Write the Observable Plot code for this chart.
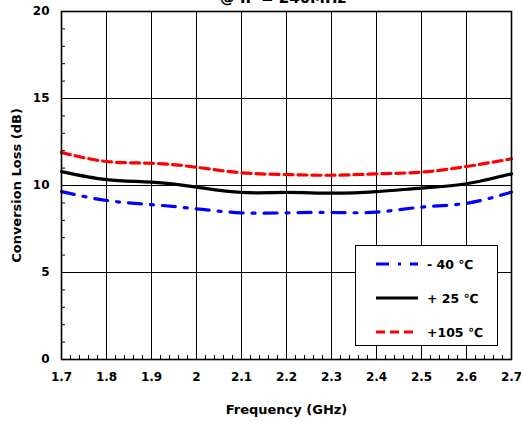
<!DOCTYPE html>
<html>
<head>
<meta charset="utf-8">
<script src="https://cdn.jsdelivr.net/npm/d3@7"></script>
<script src="https://cdn.jsdelivr.net/npm/@observablehq/plot@0.6"></script>
<style>
  html, body { margin: 0; padding: 0; background: #fff; }
  #wrap { position: relative; width: 521px; height: 421px; overflow: hidden; font-family: "DejaVu Sans", sans-serif; }
  #title { position: absolute; left: 0; width: 566px; top: -11px; text-align: center; font-weight: bold; font-size: 15px; }
  #legend { position: absolute; left: 355px; top: 245px; width: 143px; height: 101px; background: #fff; border: 1.5px solid #000; box-sizing: border-box; }
  .row { position: absolute; left: 0; height: 20px; display: flex; align-items: center; }
  .row svg { margin-left: 20px; }
  .row span { margin-left: 9px; font-weight: bold; font-size: 12.5px; }
</style>
</head>
<body>
<div id="wrap">
  <div id="title">@ IF = 240MHz</div>
</div>
<script>
// Frequency sweep (GHz) and conversion loss (dB) per temperature
const freq = [1.7, 1.8, 1.9, 2.0, 2.1, 2.2, 2.3, 2.4, 2.5, 2.6, 2.7];
const lossM40 = [9.65, 9.14, 8.90, 8.66, 8.43, 8.43, 8.45, 8.47, 8.76, 8.98, 9.62];
const loss25  = [10.80, 10.34, 10.19, 9.91, 9.60, 9.60, 9.56, 9.65, 9.85, 10.10, 10.67];
const loss105 = [11.90, 11.38, 11.28, 11.05, 10.73, 10.63, 10.59, 10.67, 10.77, 11.09, 11.53];

const series = [
  {name: "- 40 ℃", values: lossM40, color: "#0000ff", dash: "13,9,3,9"},
  {name: "+ 25 ℃", values: loss25, color: "#000000", dash: null},
  {name: "+105 ℃", values: loss105, color: "#ff0000", dash: "9,5"}
];

const xTicks = [1.7, 1.8, 1.9, 2.0, 2.1, 2.2, 2.3, 2.4, 2.5, 2.6, 2.7];
const xTickLabels = ["1.7", "1.8", "1.9", "2", "2.1", "2.2", "2.3", "2.4", "2.5", "2.6", "2.7"];
const yTicks = [0, 5, 10, 15, 20];
const xMinor = d3.range(0, 51).map(i => +(1.7 + i * 0.02).toFixed(2));
const yMinor = d3.range(0, 21);

const lineMarks = series.map(s =>
  Plot.line(freq.map((f, i) => ({f, v: s.values[i]})), {
    x: "f", y: "v", stroke: s.color, strokeWidth: 3.2,
    strokeDasharray: s.dash, curve: "natural"
  })
);

const chart = Plot.plot({
  width: 521,
  height: 421,
  marginLeft: 61,
  marginRight: 10,
  marginTop: 11,
  marginBottom: 62,
  style: {fontFamily: "'DejaVu Sans', sans-serif", fontWeight: "bold", fontSize: "12px", color: "#000", background: "#fff"},
  x: {domain: [1.7, 2.7]},
  y: {domain: [0, 20]},
  marks: [
    Plot.gridX(xTicks, {stroke: "#000", strokeOpacity: 1, strokeWidth: 1}),
    Plot.gridY([5, 10, 15], {stroke: "#000", strokeOpacity: 1, strokeWidth: 1}),
    Plot.axisX(xMinor, {anchor: "bottom", tickSize: -4, text: null, label: null, stroke: "#000"}),
    Plot.axisY(yMinor, {anchor: "left", tickSize: -4, text: null, label: null, stroke: "#000"}),
    Plot.axisX(xTicks, {anchor: "bottom", tickSize: 0, tickPadding: 13, tickFormat: (d, i) => xTickLabels[i],
      label: null, fontSize: 12}),
    Plot.axisY(yTicks, {anchor: "left", tickSize: 0, tickPadding: 12, tickFormat: d => String(d),
      label: null, fontSize: 12}),
    Plot.axisX(xTicks, {anchor: "bottom", tickSize: 0, text: null,
      label: "Frequency (GHz)", labelAnchor: "center", labelArrow: "none", labelOffset: 54, fontSize: 13}),
    Plot.axisY(yTicks, {anchor: "left", tickSize: 0, text: null,
      label: "Conversion Loss (dB)", labelAnchor: "center", labelArrow: "none", labelOffset: 50, fontSize: 13}),
    ...lineMarks,
    Plot.frame({stroke: "#000", strokeWidth: 1.6})
  ]
});

const wrap = document.getElementById("wrap");
wrap.insertBefore(chart, wrap.firstChild);
chart.style.position = "absolute";
chart.style.left = "0";
chart.style.top = "0";

// Legend box inside the plot area
const legend = document.createElement("div");
legend.id = "legend";
series.forEach((s, i) => {
  const row = document.createElement("div");
  row.className = "row";
  row.style.top = (8 + i * 34) + "px";
  row.innerHTML = `<svg width="42" height="8"><line x1="0" y1="4" x2="42" y2="4" stroke="${s.color}" stroke-width="3.2" ${s.dash ? `stroke-dasharray="${s.dash}"` : ""}/></svg><span>${s.name}</span>`;
  legend.appendChild(row);
});
wrap.appendChild(legend);
</script>
</body>
</html>
